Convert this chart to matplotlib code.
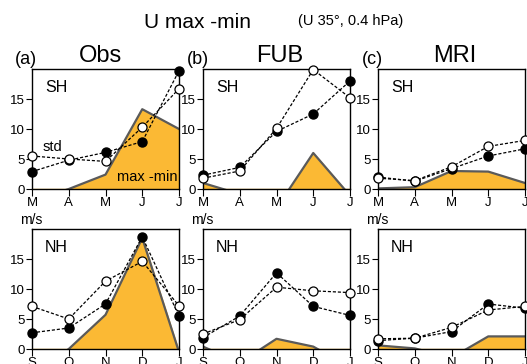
import numpy as np
import matplotlib.pyplot as plt

plt.rcParams['font.family'] = ['Liberation Sans', 'DejaVu Sans']

sh_months = ['M', 'A', 'M', 'J', 'J']
nh_months = ['S', 'O', 'N', 'D', 'J']

# Southern hemisphere (top row): open circles = std, filled circles, fill = max-min
obs_sh_open = [5.5, 5.0, 4.6, 10.3, 16.7]
obs_sh_filled = [2.9, 4.8, 6.1, 7.9, 19.7]
obs_sh_range = [-2.0, 0.0, 2.4, 13.3, 10.0]

fub_sh_open = [1.8, 3.0, 10.1, 19.9, 15.2]
fub_sh_filled = [2.3, 3.6, 9.6, 12.5, 18.0]
fub_sh_range = [1.0, -0.85, -3.2, 6.0, -1.1]

mri_sh_open = [1.8, 1.4, 3.7, 7.1, 8.1]
mri_sh_filled = [2.0, 1.3, 3.4, 5.5, 6.7]
mri_sh_range = [0.1, 0.3, 3.0, 2.9, 1.0]

# Northern hemisphere (bottom row)
obs_nh_open = [7.1, 5.0, 11.3, 14.6, 7.2]
obs_nh_filled = [2.7, 3.5, 7.5, 18.7, 5.5]
obs_nh_range = [-4.0, 0.0, 5.7, 18.5, -0.5]

fub_nh_open = [2.5, 4.9, 10.3, 9.7, 9.4]
fub_nh_filled = [1.9, 5.5, 12.7, 7.1, 5.6]
fub_nh_range = [0.4, -2.3, 1.7, 0.4, -3.0]

mri_nh_open = [1.7, 1.8, 3.6, 6.5, 7.1]
mri_nh_filled = [1.4, 1.8, 2.9, 7.5, 6.8]
mri_nh_range = [0.6, 0.1, -1.45, 2.1, 2.1]

panels = [
    (obs_sh_open, obs_sh_filled, obs_sh_range, sh_months, 'SH'),
    (fub_sh_open, fub_sh_filled, fub_sh_range, sh_months, 'SH'),
    (mri_sh_open, mri_sh_filled, mri_sh_range, sh_months, 'SH'),
    (obs_nh_open, obs_nh_filled, obs_nh_range, nh_months, 'NH'),
    (fub_nh_open, fub_nh_filled, fub_nh_range, nh_months, 'NH'),
    (mri_nh_open, mri_nh_filled, mri_nh_range, nh_months, 'NH'),
]

fig = plt.figure(figsize=(5.27, 3.64), dpi=100)
W, H = 527, 364
lefts = [32, 203, 378]
tops = [69, 229]
aw, ah = 147, 120

axes = []
for i, (op, fi, rg, months, hemi) in enumerate(panels):
    row, col = divmod(i, 3)
    ax = fig.add_axes([lefts[col] / W, 1 - (tops[row] + ah) / H, aw / W, ah / H])
    x = np.arange(len(months))
    ax.fill_between(x, rg, 0, where=None, color='#fbb934', zorder=1)
    ax.plot(x, rg, color='#5a5a5a', lw=1.6, zorder=2)
    ax.plot(x, op, ls='--', dashes=(2.5, 1.5), color='k', lw=0.9, marker='o',
            mfc='white', mec='k', ms=6.5, mew=0.9, zorder=4, clip_on=False)
    ax.plot(x, fi, ls='--', dashes=(2.5, 1.5), color='k', lw=0.9, marker='o',
            mfc='k', mec='k', ms=6.5, zorder=3, clip_on=False)
    ax.set_xlim(0, 4)
    ax.set_ylim(0, 20)
    ax.set_xticks(x)
    ax.set_xticklabels(months)
    ax.set_yticks([0, 5, 10, 15])
    ax.tick_params(labelsize=9.5, length=4, width=0.8, pad=1, direction='out')
    ax.tick_params(axis='x', length=5)
    for s in ax.spines.values():
        s.set_linewidth(1.0)
    ax.text(0.09, 0.91, hemi, transform=ax.transAxes, fontsize=11.5, va='top')
    if row == 1:
        ax.text(-0.08, 1.02, 'm/s', transform=ax.transAxes, fontsize=10, va='bottom')
    axes.append(ax)

axes[0].text(0.28, 5.9, 'std', fontsize=10.5, va='bottom')
axes[0].text(2.3, 0.8, 'max -min', fontsize=10.5, va='bottom')

fig.text(198 / W, 1 - 22 / H, 'U max -min', fontsize=15, ha='center', va='center')
fig.text(351 / W, 1 - 21 / H, '(U 35\u00b0, 0.4 hPa)', fontsize=10.5, ha='center', va='center')
for lx, tx, lab, name in [(15, 100, '(a)', 'Obs'), (187, 280, '(b)', 'FUB'), (362, 455, '(c)', 'MRI')]:
    fig.text(lx / W, 1 - 60 / H, lab, fontsize=13, ha='left', va='center')
    fig.text(tx / W, 1 - 56 / H, name, fontsize=17, ha='center', va='center')

fig.savefig('out.png', dpi=100)
